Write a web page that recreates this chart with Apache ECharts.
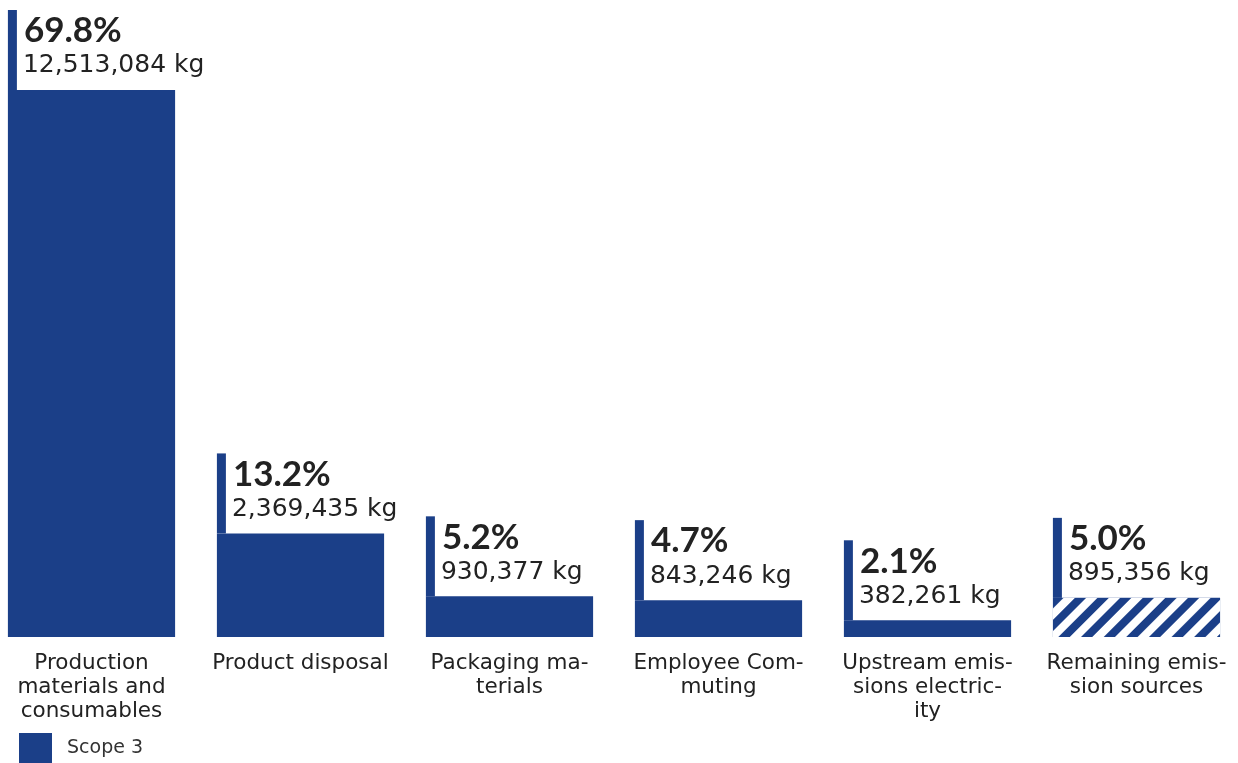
<!DOCTYPE html>
<html>
<head>
<meta charset="utf-8">
<script src="https://cdn.jsdelivr.net/npm/echarts@6/dist/echarts.min.js"></script>
<style>
  html, body { margin: 0; padding: 0; background: #fff; overflow: hidden; width: 1238px; height: 763px; position: relative; }
  #chart { width: 1254px; height: 763px; position: absolute; left: -13px; top: 0; }
</style>
</head>
<body>
<div id="chart"></div>
<script>
const categories = [
  'Production materials and consumables',
  'Product disposal',
  'Packaging materials',
  'Employee Commuting',
  'Upstream emissions electricity',
  'Remaining emission sources'
];
const tickLabels = [
  'Production\nmaterials and\nconsumables',
  'Product disposal',
  'Packaging ma-\nterials',
  'Employee Com-\nmuting',
  'Upstream emis-\nsions electric-\nity',
  'Remaining emis-\nsion sources'
];
const valuesKg = [12513084, 2369435, 930377, 843246, 382261, 895356];
const percents = ['69.8%', '13.2%', '5.2%', '4.7%', '2.1%', '5.0%'];
const seriesName = 'Scope 3';

const BLUE = '#1b3f88';
const chart = echarts.init(document.getElementById('chart'));

function fmt(v) { return v.toLocaleString('en-US') + ' kg'; }

const barData = valuesKg.map((v, i) => {
  if (i === valuesKg.length - 1) {
    return {
      value: v,
      itemStyle: {
        color: BLUE,
        decal: {
          symbol: 'rect',
          symbolSize: 1,
          color: '#ffffff',
          dashArrayX: [1, 0],
          dashArrayY: [7.4, 7.4],
          rotation: -Math.PI / 4
        }
      }
    };
  }
  return v;
});

const option = {
  animation: false,
  backgroundColor: '#fff',
  grid: { left: 0, right: 0, top: 25, bottom: 126, containLabel: false, outerBoundsMode: 'none' },
  legend: {
    data: [seriesName],
    left: 27, top: 728,
    icon: 'rect',
    itemWidth: 33, itemHeight: 30,
    textStyle: { fontFamily: 'DejaVu Sans', fontSize: 19, color: '#333', padding: [0, 0, 0, 10] }
  },
  xAxis: {
    type: 'category',
    data: categories,
    axisLine: { show: false },
    axisTick: { show: false },
    axisLabel: {
      interval: 0,
      margin: 14,
      fontFamily: 'DejaVu Sans',
      fontSize: 21.5,
      lineHeight: 24,
      color: '#222',
      verticalAlign: 'top',
      formatter: (val, idx) => tickLabels[idx]
    }
  },
  yAxis: { type: 'value', min: 0, max: 14000000, show: false },
  series: [
    {
      name: seriesName,
      type: 'bar',
      data: barData,
      barCategoryGap: '20%',
      itemStyle: { color: BLUE }
    },
    {
      type: 'custom',
      clip: false,
      silent: true,
      data: valuesKg.map((v, i) => [i, v]),
      renderItem: function (params, api) {
        const pt = api.coord([api.value(0), api.value(1)]);
        const slot = api.size([1, 0])[0];
        const bw = slot * 0.8;
        const left = pt[0] - bw / 2;
        const top = pt[1];
        const i = params.dataIndex;
        return {
          type: 'group',
          children: [
            { type: 'rect', shape: { x: left, y: top - 80, width: 9, height: 80 }, style: { fill: BLUE } },
            { type: 'text', style: { x: left + 16, y: top - 59, text: percents[i], fill: '#222', font: 'bold 35px Lato', textVerticalAlign: 'middle', textAlign: 'left' } },
            { type: 'text', style: { x: left + 15, y: top - 24, text: fmt(valuesKg[i]), fill: '#222', font: '25px "DejaVu Sans"', textVerticalAlign: 'middle', textAlign: 'left' } }
          ]
        };
      }
    }
  ]
};
chart.setOption(option);
</script>
</body>
</html>
